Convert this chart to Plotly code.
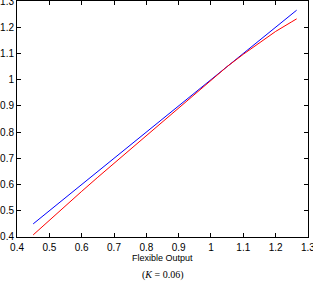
import plotly.graph_objects as go

x_vals = [0.45, 0.5, 0.55, 0.6, 0.65, 0.7, 0.75, 0.8, 0.85, 0.9, 0.95, 1.0, 1.05, 1.1, 1.15, 1.2, 1.25, 1.265]
blue_y = [0.45, 0.5, 0.55, 0.6, 0.65, 0.7, 0.75, 0.8, 0.85, 0.9, 0.95, 1.0, 1.05, 1.1, 1.15, 1.2, 1.25, 1.265]
red_y = [0.408, 0.464, 0.519, 0.574, 0.628, 0.681, 0.734, 0.787, 0.841, 0.894, 0.947, 1.0, 1.05, 1.097, 1.142, 1.184, 1.221, 1.232]
tick_vals = [0.4, 0.5, 0.6, 0.7, 0.8, 0.9, 1.0, 1.1, 1.2, 1.3]
tick_text = ["0.4", "0.5", "0.6", "0.7", "0.8", "0.9", "1", "1.1", "1.2", "1.3"]

fig = go.Figure()
fig.add_trace(go.Scatter(x=x_vals, y=blue_y, mode="lines", line=dict(color="#0000ff", width=1)))
fig.add_trace(go.Scatter(x=x_vals, y=red_y, mode="lines", line=dict(color="#ff0000", width=1)))

axis_common = dict(
    showline=True, linecolor="black", linewidth=1, mirror="ticks",
    ticks="inside", ticklen=4, tickcolor="black", showgrid=False, zeroline=False,
    tickfont=dict(family="Liberation Sans", size=10, color="black"),
    tickvals=tick_vals, ticktext=tick_text,
    ticklabeloverflow="allow", automargin=False,
)
fig.update_xaxes(range=[0.3999, 1.3001], ticklabelstandoff=1, **axis_common)
fig.update_yaxes(range=[0.3999, 1.3001], **axis_common)

fig.update_layout(
    width=313, height=281,
    margin=dict(l=17, r=5, t=1, b=44),
    plot_bgcolor="white", paper_bgcolor="white",
    showlegend=False,
    annotations=[
        dict(text="Flexible Output", x=0.5, y=-0.087, xref="paper", yref="paper",
             showarrow=False, xanchor="center", yanchor="middle",
             font=dict(family="Liberation Sans", size=9, color="black")),
        dict(text="(<i>K</i> = 0.06)", x=0.5, y=-0.163, xref="paper", yref="paper",
             showarrow=False, xanchor="center", yanchor="middle",
             font=dict(family="Liberation Serif", size=10, color="black")),
    ],
)
fig.write_html("out.html")
